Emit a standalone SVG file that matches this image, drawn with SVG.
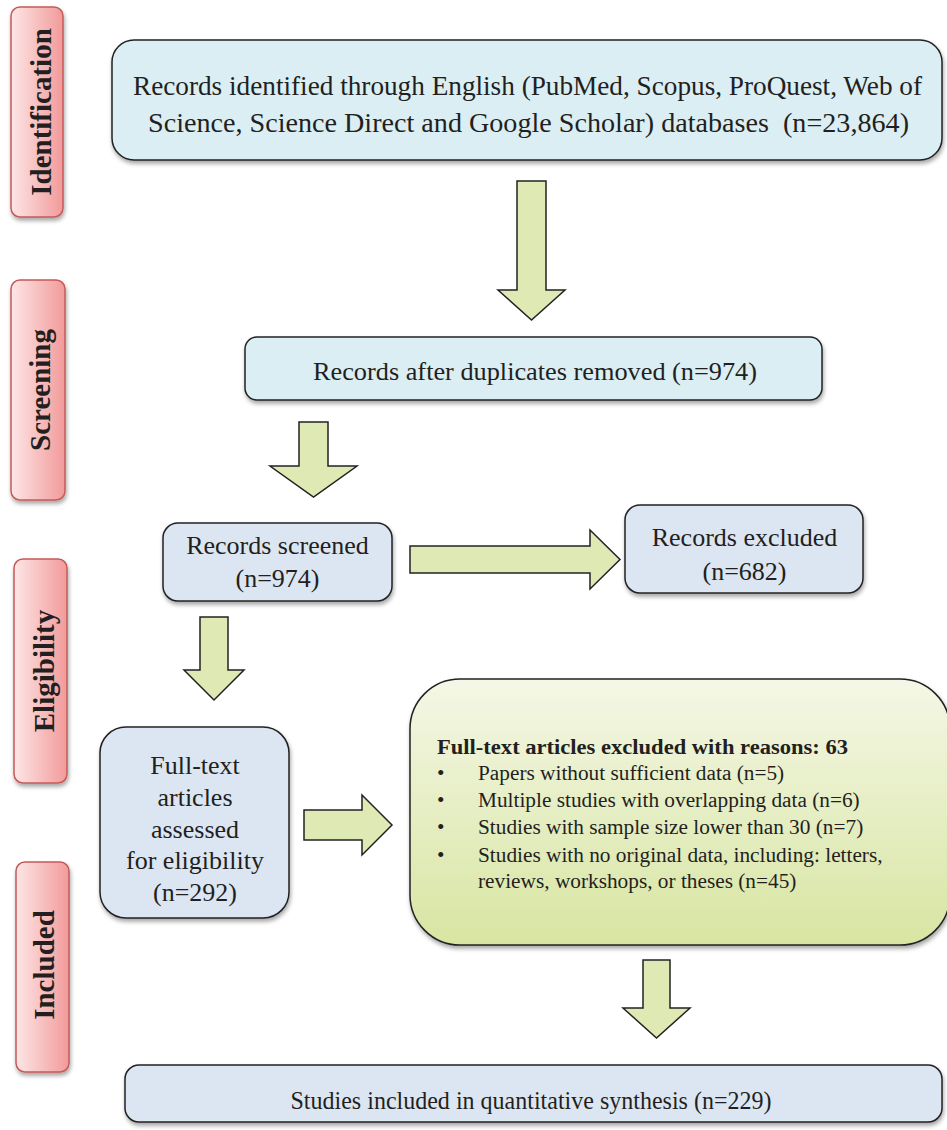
<svg xmlns="http://www.w3.org/2000/svg" width="947" height="1130" viewBox="0 0 947 1130">
<defs>
<linearGradient id="pink" x1="0" y1="0" x2="1" y2="0">
<stop offset="0" stop-color="#fde6e6"/>
<stop offset="1" stop-color="#f29a9a"/>
</linearGradient>
<linearGradient id="green" x1="0" y1="0" x2="0" y2="1">
<stop offset="0" stop-color="#f4f7e6"/>
<stop offset="1" stop-color="#d8e5a2"/>
</linearGradient>
<filter id="sh" x="-10%" y="-10%" width="125%" height="130%">
<feDropShadow dx="1" dy="3" stdDeviation="2" flood-color="#000" flood-opacity="0.35"/>
</filter>
<style>
.lab{fill:url(#pink);stroke:#c55a58;stroke-width:1.5;filter:url(#sh)}
.labt{font-family:"Liberation Serif","Times New Roman",serif;font-weight:bold;font-size:29px;fill:#231f20;text-anchor:middle}
.cy{fill:#daeef3;stroke:#222;stroke-width:1.5;filter:url(#sh)}
.bl{fill:#dce6f2;stroke:#222;stroke-width:1.5;filter:url(#sh)}
.gr{fill:url(#green);stroke:#222;stroke-width:1.5;filter:url(#sh)}
.arr{fill:#dfe9b4;stroke:#222;stroke-width:1.5}
.t{font-family:"Liberation Serif","Times New Roman",serif;fill:#231f20;text-anchor:middle}
.tl{font-family:"Liberation Serif","Times New Roman",serif;fill:#231f20;font-size:21.3px}
</style>
</defs>
<rect width="947" height="1130" fill="#fff"/>

<g id="label-identification">
<rect class="lab" x="11" y="7" width="52" height="210" rx="9"/>
<text class="labt" transform="translate(51,112) rotate(-90)">Identification</text>
</g>
<g id="label-screening">
<rect class="lab" x="11" y="280" width="54" height="220" rx="9"/>
<text class="labt" transform="translate(50,390) rotate(-90)">Screening</text>
</g>
<g id="label-eligibility">
<rect class="lab" x="14" y="559" width="53" height="224" rx="9"/>
<text class="labt" transform="translate(54,671) rotate(-90)">Eligibility</text>
</g>
<g id="label-included">
<rect class="lab" x="16" y="862" width="53" height="210" rx="9"/>
<text class="labt" transform="translate(54,965) rotate(-90)">Included</text>
</g>

<g id="connectors">
<path class="arr" d="M517,181 H546 V290 H565 L531.5,320 L498,290 H517 Z"/>
<path class="arr" d="M299,422 H328 V466 H357 L313.5,497 L270,466 H299 Z"/>
<path class="arr" d="M410,546 H590 V530 L620,559.5 L590,589 V573 H410 Z"/>
<path class="arr" d="M200,617 H228 V670 H244 L214,700 L184,670 H200 Z"/>
<path class="arr" d="M304,810 H362 V795 L392,825 L362,855 V840 H304 Z"/>
<path class="arr" d="M643,960 H670 V1008 H690 L656.5,1038 L623,1008 H643 Z"/>
</g>

<g id="node-identified">
<rect class="cy" x="112" y="40" width="830" height="120" rx="22"/>
<text class="t" font-size="27" x="527.5" y="95" textLength="789" lengthAdjust="spacingAndGlyphs">Records identified through English (PubMed, Scopus, ProQuest, Web of</text>
<text class="t" font-size="27" x="528.5" y="132" textLength="761" lengthAdjust="spacingAndGlyphs" xml:space="preserve">Science, Science Direct and Google Scholar) databases  (n=23,864)</text>
</g>

<g id="node-duplicates">
<rect class="cy" x="245" y="337" width="577" height="63" rx="12"/>
<text class="t" font-size="25" x="535" y="380" textLength="444" lengthAdjust="spacingAndGlyphs">Records after duplicates removed (n=974)</text>
</g>

<g id="node-screened">
<rect class="bl" x="163" y="523" width="229" height="78" rx="15"/>
<text class="t" font-size="26" x="277.5" y="554">Records screened</text>
<text class="t" font-size="26" x="277.5" y="587">(n=974)</text>
</g>

<g id="node-excluded">
<rect class="bl" x="625" y="505" width="238" height="88" rx="15"/>
<text class="t" font-size="26" x="744.5" y="546">Records excluded</text>
<text class="t" font-size="26" x="744.5" y="580">(n=682)</text>
</g>

<g id="node-fulltext">
<rect class="bl" x="100" y="727" width="189" height="191" rx="26"/>
<text class="t" font-size="26" x="195" y="774">Full-text</text>
<text class="t" font-size="26" x="195" y="806">articles</text>
<text class="t" font-size="26" x="195" y="838">assessed</text>
<text class="t" font-size="26" x="195" y="869">for eligibility</text>
<text class="t" font-size="26" x="195" y="901">(n=292)</text>
</g>

<g id="node-fulltext-excluded">
<rect class="gr" x="410" y="679" width="540" height="266" rx="50"/>
<text class="tl" x="437" y="754" font-size="22" font-weight="bold" textLength="411" lengthAdjust="spacingAndGlyphs">Full-text articles excluded with reasons: 63</text>
<text class="tl" x="437" y="780">•</text>
<text class="tl" x="478" y="780">Papers without sufficient data (n=5)</text>
<text class="tl" x="437" y="807">•</text>
<text class="tl" x="478" y="807">Multiple studies with overlapping data (n=6)</text>
<text class="tl" x="437" y="834">•</text>
<text class="tl" x="478" y="834">Studies with sample size lower than 30 (n=7)</text>
<text class="tl" x="437" y="862">•</text>
<text class="tl" x="478" y="862">Studies with no original data, including: letters,</text>
<text class="tl" x="478" y="888">reviews, workshops, or theses (n=45)</text>
</g>

<g id="node-included">
<rect class="bl" x="125" y="1065" width="817" height="57" rx="14"/>
<text class="t" font-size="25" x="531" y="1109" textLength="481" lengthAdjust="spacingAndGlyphs">Studies included in quantitative synthesis (n=229)</text>
</g>
</svg>
